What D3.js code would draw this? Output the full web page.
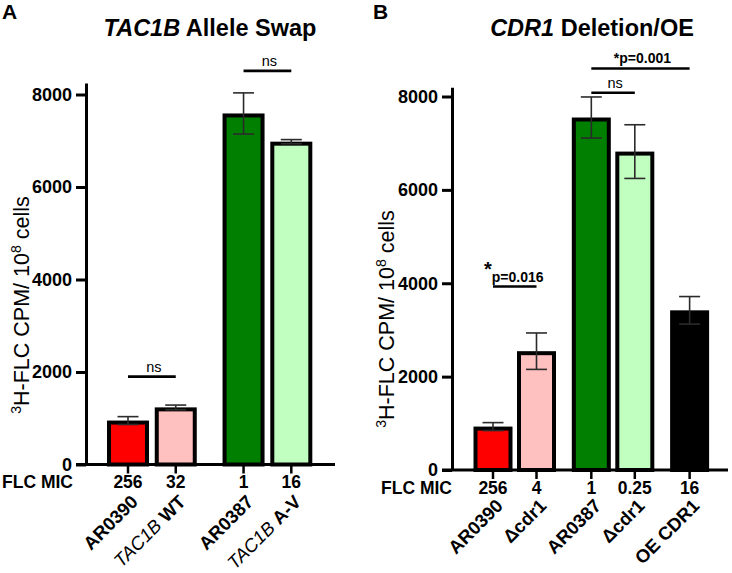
<!DOCTYPE html>
<html>
<head>
<meta charset="utf-8">
<script src="https://cdn.jsdelivr.net/npm/d3@7"></script>
<style>
  body { margin: 0; background: #fff; }
  svg text { font-family: "Liberation Sans", Arial, sans-serif; fill: #000; }
</style>
</head>
<body>
<div id="chart"></div>
<script>
// ---- data, panel A (TAC1B allele swap)
const aStrains = ["AR0390", "TAC1B WT", "AR0387", "TAC1B A-V"]
const aMic = ["256", "32", "1", "16"]
const aMean = [950, 1235, 7590, 6980]
const aSd = [85, 50, 445, 45]
const aGroup = [0, 0, 1, 1]
// [from bar, to bar, label, height in CPM]
const aSig = [[0, 1, "ns", 1900], [2, 3, "ns", 8510]]

// ---- data, panel B (CDR1 deletion / overexpression)
const bStrains = ["AR0390", "Δcdr1", "AR0387", "Δcdr1", "OE CDR1"]
const bMic = ["256", "4", "1", "0.25", "16"]
const bMean = [930, 2545, 7550, 6820, 3420]
const bSd = [85, 390, 440, 575, 295]
const bGroup = [0, 0, 1, 1, 2]
const bSig = [[0, 1, "*p=0.016", 3930], [2, 3, "ns", 8080], [2, 4, "*p=0.001", 8600]]

const yTicks = [0, 2000, 4000, 6000, 8000]

const fills = ["#ff0000", "#ffc0c0", "#007f00", "#c0ffc0", "#000000"]

const W = 732, H = 573

const svg = d3.select("#chart").append("svg")
    .attr("width", W)
    .attr("height", H)

const panels = [
    {
        letter: "A", letterX: 2, italic: "TAC1B", title: " Allele Swap", titleX: 210,
        left: 86, right: 335, zeroY: 464.5, topY: 94.5, yMax: 8250,
        firstX: 128, step: 47.75, gap: 0.42, barW: 42,
        micX: 2, micY: 488, labelY: 503, yLabelX: 29, yLabelY: 305,
        strains: aStrains, mic: aMic, mean: aMean, sd: aSd, group: aGroup, sig: aSig
    },
    {
        letter: "B", letterX: 373, italic: "CDR1", title: " Deletion/OE", titleX: 592,
        left: 452, right: 728, zeroY: 470, topY: 96.5, yMax: 8200,
        firstX: 493, step: 43.5, gap: 0.26, barW: 39,
        micX: 381, micY: 494, labelY: 507, yLabelX: 394, yLabelY: 319,
        strains: bStrains, mic: bMic, mean: bMean, sd: bSd, group: bGroup, sig: bSig
    }
]

const drawPanel = (p) => {
    const g = svg.append("g")

    const y = d3.scaleLinear()
        .domain([0, 8000])
        .range([p.zeroY, p.topY])

    // slot index -> pixel centre, groups separated by a gap
    const x = d3.scaleLinear()
        .domain([0, 1])
        .range([p.firstX, p.firstX + p.step])

    const bars = p.mean.map((m, i) => ({
        name: p.strains[i],
        mic: p.mic[i],
        mean: m,
        sd: p.sd[i],
        cx: x(i + p.group[i] * p.gap),
        fill: fills[i]
    }))

    const sw = 4

    // bars (border drawn inside the bar)
    g.selectAll(".bar")
        .data(bars)
        .enter().append("rect")
        .attr("class", "bar")
        .attr("x", d => d.cx - p.barW / 2 + sw / 2)
        .attr("y", d => y(d.mean) + sw / 2)
        .attr("width", p.barW - sw)
        .attr("height", d => y(0) - y(d.mean) - sw / 2)
        .style("fill", d => d.fill)
        .style("stroke", "#000")
        .style("stroke-width", sw)

    // error bars
    const err = g.selectAll(".err")
        .data(bars)
        .enter().append("g")
        .attr("class", "err")
        .style("stroke", "#2b2b2b")
        .style("stroke-width", 1.6)

    err.append("line")
        .attr("x1", d => d.cx).attr("x2", d => d.cx)
        .attr("y1", d => y(d.mean + d.sd)).attr("y2", d => y(d.mean - d.sd))
    err.append("line")
        .attr("x1", d => d.cx - 10.5).attr("x2", d => d.cx + 10.5)
        .attr("y1", d => y(d.mean + d.sd)).attr("y2", d => y(d.mean + d.sd))
    err.append("line")
        .attr("x1", d => d.cx - 10.5).attr("x2", d => d.cx + 10.5)
        .attr("y1", d => y(d.mean - d.sd)).attr("y2", d => y(d.mean - d.sd))

    // y axis
    const yAxis = g.append("g")
        .attr("transform", `translate(${p.left},0)`)
        .call(d3.axisLeft(y.copy().domain([0, p.yMax]).range([p.zeroY, y(p.yMax)]))
            .tickValues(yTicks).tickSize(10).tickSizeOuter(0).tickPadding(4).tickFormat(d3.format("d")))
    yAxis.select(".domain").style("stroke-width", 3)
    yAxis.selectAll(".tick line").style("stroke-width", 3)
    yAxis.selectAll(".tick text")
        .style("font-size", "18px")
        .style("font-weight", "bold")
        .attr("fill", "#000")

    // x axis
    g.append("line")
        .attr("x1", p.left - 10).attr("x2", p.right)
        .attr("y1", y(0)).attr("y2", y(0))
        .style("stroke", "#000").style("stroke-width", 3)

    g.selectAll(".xtick")
        .data(bars)
        .enter().append("line")
        .attr("x1", d => d.cx).attr("x2", d => d.cx)
        .attr("y1", y(0)).attr("y2", y(0) + 9)
        .style("stroke", "#000").style("stroke-width", 2.5)

    // MIC row
    g.append("text")
        .attr("x", p.micX).attr("y", p.micY)
        .style("font-size", "17.5px").style("font-weight", "bold")
        .text("FLC MIC")

    g.selectAll(".mic")
        .data(bars)
        .enter().append("text")
        .attr("x", d => d.cx).attr("y", p.micY)
        .attr("text-anchor", "middle")
        .style("font-size", "17.5px").style("font-weight", "bold")
        .text(d => d.mic)

    // strain names, rotated
    const lab = g.selectAll(".strain")
        .data(bars)
        .enter().append("text")
        .attr("transform", d => `translate(${d.cx + 11},${p.labelY}) rotate(-45)`)
        .attr("text-anchor", "end")
        .style("font-size", "18.5px")

    lab.each(function (d) {
        const t = d3.select(this)
        if (d.name.startsWith("TAC1B ")) {
            t.append("tspan").style("font-style", "italic").text("TAC1B ")
            t.append("tspan").style("font-weight", "bold").text(d.name.slice(6))
        } else {
            t.append("tspan").style("font-weight", "bold").text(d.name)
        }
    })

    // y label
    const yl = g.append("text")
        .attr("transform", `translate(${p.yLabelX},${p.yLabelY}) rotate(-90)`)
        .attr("text-anchor", "middle")
        .style("font-size", "21.5px")
    yl.append("tspan").attr("dy", -8).style("font-size", "14px").text("3")
    yl.append("tspan").attr("dy", 8).text("H-FLC CPM/ 10")
    yl.append("tspan").attr("dy", -8).style("font-size", "14px").text("8")
    yl.append("tspan").attr("dy", 8).text(" cells")

    // significance bars
    p.sig.forEach(([a, b, label, v]) => {
        const x1 = bars[a].cx, x2 = bars[b].cx, yy = y(v)
        g.append("line")
            .attr("x1", x1).attr("x2", x2)
            .attr("y1", yy).attr("y2", yy)
            .style("stroke", "#000").style("stroke-width", 2.6)
        const t = g.append("text")
            .attr("x", (x1 + x2) / 2 + 2).attr("y", yy - 5)
            .attr("text-anchor", "middle")
            .style("font-size", label === "ns" ? "14.5px" : "14px")
            .style("font-weight", label === "ns" ? "normal" : "bold")
        if (label === "*p=0.016") {
            t.append("tspan").attr("dy", -6).style("font-size", "20px").text("*")
            t.append("tspan").attr("dy", 6).text(label.slice(1))
            t.attr("x", (x1 + x2) / 2 - 1)
        } else {
            t.text(label)
        }
    })

    // panel letter + title
    g.append("text")
        .attr("x", p.letterX).attr("y", 19)
        .style("font-size", "21px").style("font-weight", "bold")
        .text(p.letter)

    const tt = g.append("text")
        .attr("x", p.titleX).attr("y", 36)
        .attr("text-anchor", "middle")
        .style("font-size", "23.5px").style("font-weight", "bold")
    tt.append("tspan").style("font-style", "italic").text(p.italic)
    tt.append("tspan").text(p.title)
}

panels.forEach(drawPanel)
</script>
</body>
</html>
